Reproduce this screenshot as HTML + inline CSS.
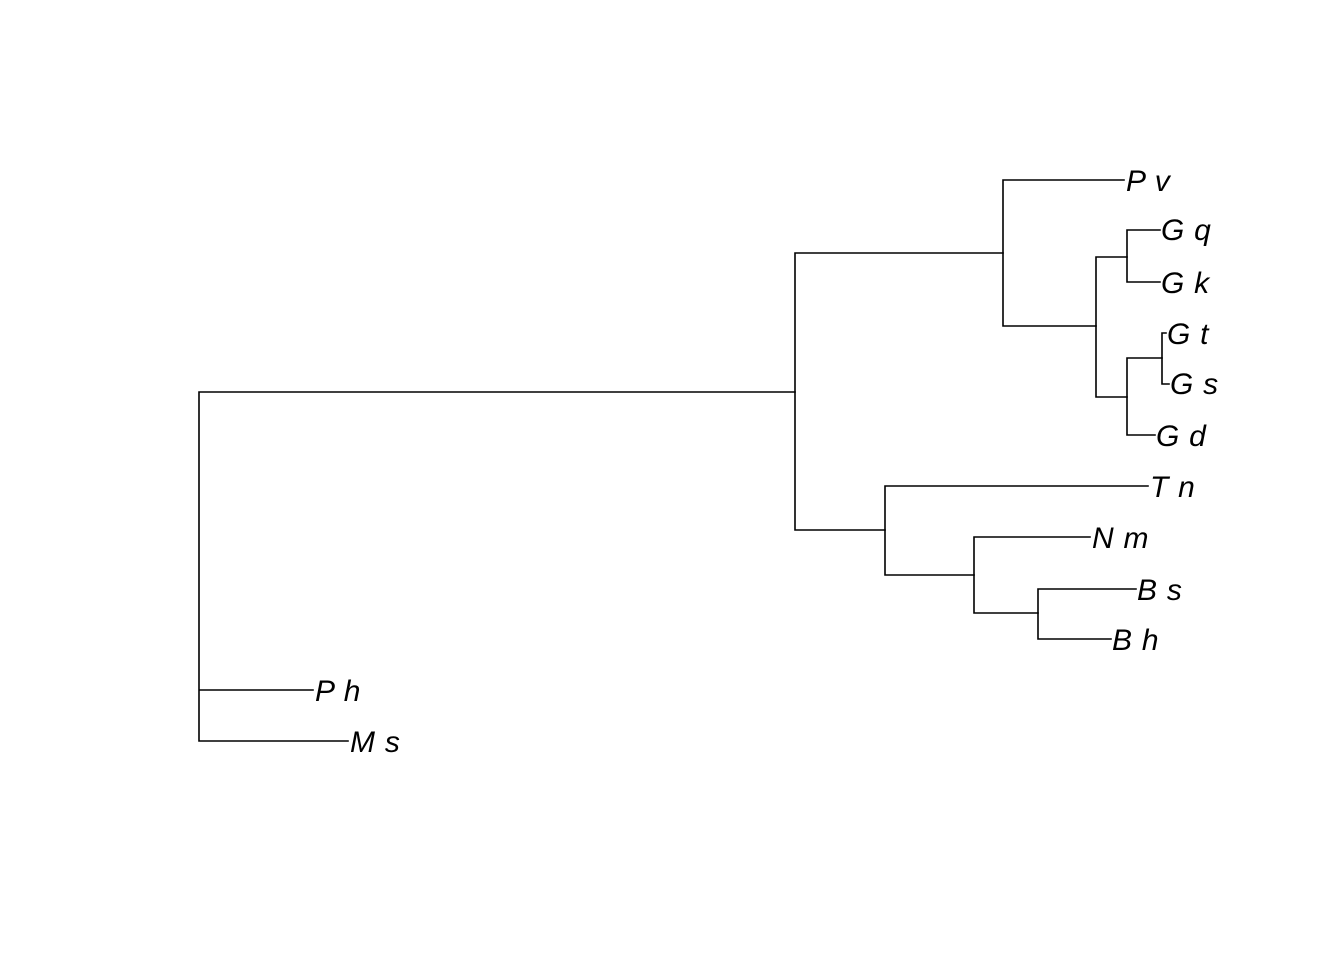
<!DOCTYPE html>
<html><head><style>body{margin:0;background:#fff}</style></head><body>
<svg width="1344" height="960" xmlns="http://www.w3.org/2000/svg">
<g stroke="#000" stroke-width="1.6" fill="none" stroke-linecap="square">
<path d="M199,392V741M199,392H795M199,690H313M199,741H348"/>
<path d="M795,253V530M795,253H1003M795,530H885"/>
<path d="M1003,180V326M1003,180H1124M1003,326H1096"/>
<path d="M1096,257V397M1096,257H1127M1096,397H1127"/>
<path d="M1127,230V282M1127,230H1160M1127,282H1160"/>
<path d="M1127,358V435M1127,358H1162M1127,435H1155"/>
<path d="M1162,333V384M1162,333H1166M1162,384H1169"/>
<path d="M885,486V575M885,486H1148M885,575H974"/>
<path d="M974,537V613M974,537H1090M974,613H1038"/>
<path d="M1038,589V639M1038,589H1136M1038,639H1111"/>
</g>
<g font-family="Liberation Sans, sans-serif" font-style="italic" font-size="30" word-spacing="1.5" fill="#000">
<text x="1126" y="191">P v</text>
<text x="1161" y="240">G q</text>
<text x="1161" y="293">G k</text>
<text x="1167" y="344">G t</text>
<text x="1170" y="394">G s</text>
<text x="1156" y="446">G d</text>
<text x="1150" y="497">T n</text>
<text x="1092" y="548">N m</text>
<text x="1137" y="600">B s</text>
<text x="1112" y="650">B h</text>
<text x="315" y="701">P h</text>
<text x="350" y="752">M s</text>
</g>
</svg>
</body></html>
